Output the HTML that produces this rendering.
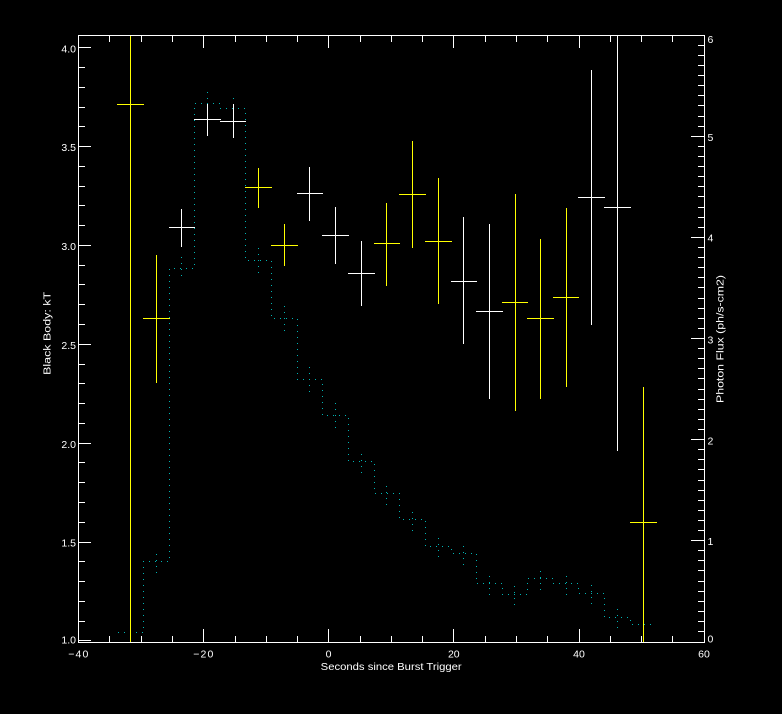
<!DOCTYPE html>
<html>
<head>
<meta charset="utf-8">
<style>
html,body{margin:0;padding:0;background:#000;}
body{width:782px;height:714px;overflow:hidden;}
svg{display:block;}
text{font-family:"Liberation Sans",sans-serif;font-size:10.5px;fill:#fff;}
</style>
</head>
<body>
<svg width="782" height="714" viewBox="0 0 782 714" xmlns="http://www.w3.org/2000/svg">
<rect x="0" y="0" width="782" height="714" fill="#000"/>

<!-- dotted light curve histogram -->
<g fill="none" stroke="#00b4b4" stroke-width="1" stroke-dasharray="1 5">
<path stroke-dashoffset="5.5" d="M117.5 632.5H143.5V561.5H169.5V268.5H194.5V103.5H220.5V108.5H245.5V260.5H271.5V318.5H297.5V379.5H322.5V415.5H348.5V461.5H374.5V493.5H399.5V519.5H425.5V546.5H451.5V553.5H476.5V583.5H502.5V594.5H527.5V578.5H553.5V583.5H578.5V593.5H604.5V617.5H630.5V624.5H655.5"/>
<path d="M156.5 554V573M181.5 257V280M207.5 92V115M233.5 98V119M258.5 248V273M284.5 306V331M309.5 367V392M335.5 403V428M361.5 454V473M386.5 486V505M412.5 512V531M438.5 538V557M463.5 546V565M489.5 576V595M514.5 586V605M540.5 571V590M566.5 576V595M591.5 585V604M617.5 609V628"/>
</g>

<!-- error crosses -->
<g fill="none" stroke-width="1" shape-rendering="crispEdges">
<path stroke="#ffff00" d="M117 104.5H144M130.5 35V642
M143 318.5H170M156.5 255V383
M245 187.5H272M258.5 168V208
M271 245.5H298M284.5 224V266
M374 243.5H400M386.5 203V286
M399 194.5H426M412.5 141V248
M425 241.5H452M438.5 178V304
M502 302.5H528M515.5 194V411
M527 318.5H554M540.5 239V399
M553 297.5H579M566.5 208V387
M630 522.5H657M643.5 387V642"/>
<path stroke="#ffffff" d="M169 227.5H195M181.5 209V247
M194 119.5H221M207.5 104V136
M220 121.5H246M233.5 104V138
M297 193.5H323M309.5 167V221
M322 235.5H349M335.5 207V264
M348 273.5H375M361.5 241V306
M451 281.5H477M463.5 217V344
M476 311.5H503M489.5 224V399
M578 197.5H605M591.5 70V325
M604 207.5H631M617.5 35V451"/>
</g>

<!-- axes -->
<g fill="none" stroke="#fff" stroke-width="1" shape-rendering="crispEdges">
<rect x="78.5" y="35.5" width="626" height="607"/>
<!-- left ticks -->
<path d="M78 47.5h13M78 146.5h13M78 245.5h13M78 344.5h13M78 443.5h13M78 542.5h13M78 640.5h13
M78 67.5h7M78 87.5h7M78 107.5h7M78 126.5h7M78 166.5h7M78 186.5h7M78 205.5h7M78 225.5h7
M78 265.5h7M78 284.5h7M78 304.5h7M78 324.5h7M78 364.5h7M78 383.5h7M78 403.5h7M78 423.5h7
M78 462.5h7M78 482.5h7M78 502.5h7M78 522.5h7M78 561.5h7M78 581.5h7M78 601.5h7M78 621.5h7"/>
<!-- right ticks -->
<path d="M691 136.5H705M691 237.5H705M691 338.5H705M691 439.5H705M691 540.5H705
M698 631.5H705M698 621.5H705M698 611.5H705M698 601.5H705M698 591.5H705M698 581.5H705M698 570.5H705M698 560.5H705M698 550.5H705
M698 530.5H705M698 520.5H705M698 510.5H705M698 500.5H705M698 490.5H705M698 480.5H705M698 469.5H705M698 459.5H705M698 449.5H705
M698 429.5H705M698 419.5H705M698 409.5H705M698 399.5H705M698 389.5H705M698 378.5H705M698 368.5H705M698 358.5H705M698 348.5H705
M698 328.5H705M698 318.5H705M698 308.5H705M698 298.5H705M698 287.5H705M698 277.5H705M698 267.5H705M698 257.5H705M698 247.5H705
M698 227.5H705M698 217.5H705M698 207.5H705M698 196.5H705M698 186.5H705M698 176.5H705M698 166.5H705M698 156.5H705M698 146.5H705
M698 126.5H705M698 116.5H705M698 105.5H705M698 95.5H705M698 85.5H705M698 75.5H705M698 65.5H705M698 55.5H705M698 45.5H705"/>
<!-- bottom ticks -->
<path d="M203.5 642V629M328.5 642V629M453.5 642V629M579.5 642V629
M109.5 642V636M141.5 642V636M172.5 642V636M235.5 642V636M266.5 642V636M297.5 642V636M360.5 642V636M391.5 642V636
M422.5 642V636M485.5 642V636M516.5 642V636M547.5 642V636M610.5 642V636M641.5 642V636M672.5 642V636"/>
<!-- top ticks -->
<path d="M203.5 35V48M328.5 35V48M453.5 35V48M579.5 35V48
M109.5 35V42M141.5 35V42M172.5 35V42M235.5 35V42M266.5 35V42M297.5 35V42M360.5 35V42M391.5 35V42
M422.5 35V42M485.5 35V42M516.5 35V42M547.5 35V42M610.5 35V42M641.5 35V42M672.5 35V42"/>
</g>

<!-- left tick labels -->
<g text-anchor="end">
<text x="76" y="52.5">4.0</text>
<text x="76" y="151">3.5</text>
<text x="76" y="250">3.0</text>
<text x="76" y="349">2.5</text>
<text x="76" y="448">2.0</text>
<text x="76" y="546.5">1.5</text>
<text x="76" y="643.5">1.0</text>
</g>

<!-- right tick labels -->
<g text-anchor="start">
<text x="707.5" y="43">6</text>
<text x="707.5" y="141">5</text>
<text x="707.5" y="241.5">4</text>
<text x="707.5" y="343.5">3</text>
<text x="707.5" y="444.5">2</text>
<text x="707.5" y="545">1</text>
<text x="707.5" y="642.5">0</text>
</g>

<!-- bottom tick labels -->
<g text-anchor="middle">
<text x="78.3" y="657.5" textLength="20" lengthAdjust="spacing">−40</text>
<text x="203.3" y="657.5" textLength="20" lengthAdjust="spacing">−20</text>
<text x="328.5" y="657.5">0</text>
<text x="453.8" y="657.5">20</text>
<text x="579" y="657.5">40</text>
<text x="704" y="657.5">60</text>
</g>

<!-- axis titles -->
<text x="391.2" y="670" text-anchor="middle" textLength="141" lengthAdjust="spacingAndGlyphs">Seconds since Burst Trigger</text>
<text transform="translate(50.5,333.4) rotate(-90)" x="0" y="0" text-anchor="middle" textLength="83" lengthAdjust="spacingAndGlyphs">Black Body: kT</text>
<text transform="translate(723.3,339) rotate(-90)" x="0" y="0" text-anchor="middle" textLength="128" lengthAdjust="spacingAndGlyphs">Photon Flux (ph/s-cm2)</text>
</svg>
</body>
</html>
